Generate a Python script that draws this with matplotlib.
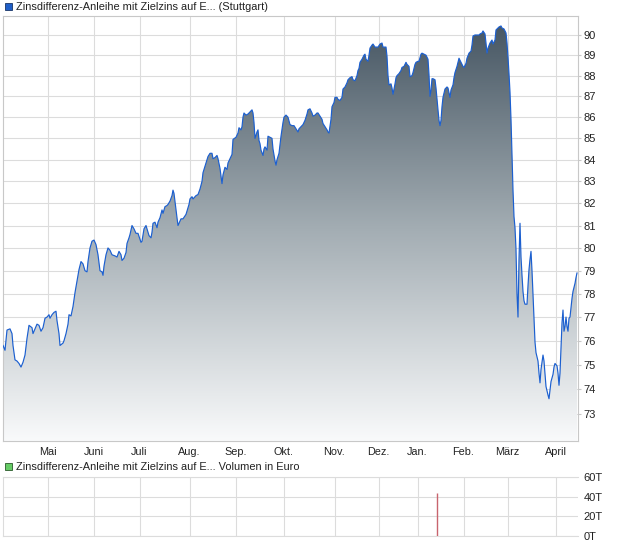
import matplotlib
matplotlib.use("Agg")
import matplotlib.pyplot as plt
import numpy as np
from matplotlib.colors import LinearSegmentedColormap
from matplotlib.patches import Polygon, Rectangle

plt.rcParams["font.family"] = ["Liberation Sans", "DejaVu Sans"]

# Kursverlauf (Stuttgart), Position = Handelstag-Slot auf der Zeitachse
t = [0, 2, 4, 7, 9, 10, 12, 14, 16, 18, 20, 22, 24, 26, 29, 30, 32, 34, 36, 38,
     40, 42, 44, 46, 47, 49, 51, 53, 54, 56, 57, 60, 61, 63, 65, 66, 68, 70, 72, 74,
     76, 78, 80, 82, 84, 85, 87, 89, 91,
     93, 95, 97, 99, 100, 101, 103, 105, 107, 109, 112, 114, 116, 118, 119, 121, 123, 124, 126, 127,
     129, 131, 133, 135, 138, 139, 141, 143, 144, 146, 148, 149, 150, 152, 154, 155, 157, 159, 160, 162,
     164, 165, 167, 169, 170, 171, 173, 174, 175, 177, 178, 180, 183, 184, 186, 187,
     189, 190, 193, 195, 197, 199, 200, 202, 204, 205, 207, 209, 210, 212, 214, 215, 217, 218, 219, 220,
     222, 224, 225, 227, 229, 230, 233, 235, 236, 238, 239, 240, 241, 243, 245, 247, 249, 250, 251, 252,
     254, 255, 256, 257, 258, 260, 261, 262, 264, 265, 267, 269, 270, 272, 273, 274, 276, 277, 278, 280,
     281, 283,
     285, 287, 289, 291, 293, 295, 296, 298, 300, 302, 304, 305, 307, 309, 310, 312, 314, 315, 317, 319,
     320, 322, 324, 325, 326, 328, 329, 331, 332, 334, 335, 337, 339, 340, 342, 344, 345, 347, 349, 350,
     352, 354, 355, 356, 357, 359, 361, 362, 363, 365, 366, 367, 369, 370, 372, 374, 375,
     377, 379, 380, 383, 384, 385, 386, 388, 389, 390, 392, 393, 394, 396, 398, 399, 401, 403, 404, 406,
     407, 409, 410, 412, 413, 415, 416, 418, 419, 421, 423, 425, 426, 427, 428, 429, 430, 432, 433, 434,
     435, 436, 437, 438, 439, 440, 442, 444, 445, 447, 448, 450, 451, 452, 454, 455, 456, 458, 460, 461,
     463, 464, 466, 468, 469, 470, 472, 474,
     476, 477, 479, 480, 482, 483, 484, 485, 487, 489, 490, 492, 493, 495, 496, 498, 499, 501, 503, 504,
     505, 506, 507, 508, 509, 510, 511, 512, 513, 514, 515, 516, 517, 518, 519, 520, 521, 522, 524, 525,
     526, 527, 528, 529, 530, 531, 532, 533, 535, 536, 537, 538, 540, 541, 542, 543, 545, 546, 547, 548,
     550, 551, 552, 554, 555, 556, 557, 558, 559, 560, 561, 562, 563, 564, 565, 566, 567, 568, 569, 570,
     572, 573, 574]
kurs = [75.8, 75.6, 76.45, 76.5, 76.3, 75.8, 75.2, 75.15, 75.05, 74.9, 75.1, 75.4, 76.1, 76.65, 76.55, 76.3, 76.5, 76.7, 76.65, 76.4,
        76.55, 76.95, 77.0, 77.1, 76.95, 77.1, 77.2, 77.25, 76.85, 76.3, 75.8, 75.9, 76.0, 76.3, 76.7, 77.1, 77.05, 77.45, 78.05, 78.55,
        79.05, 79.4, 79.3, 79.0, 78.95, 79.4, 80.0, 80.3, 80.35,
        80.15, 79.7, 79.0, 78.95, 78.8, 79.2, 79.7, 80.0, 79.9, 79.7, 79.65, 79.6, 79.85, 79.7, 79.45, 79.55, 79.8, 80.2, 80.45, 80.6,
        81.0, 80.85, 80.65, 80.65, 80.25, 80.3, 80.85, 81.0, 80.85, 80.55, 80.45, 80.7, 81.1, 81.15, 80.9, 81.15, 81.35, 81.7, 81.55, 81.85,
        81.9, 81.95, 82.1, 82.35, 82.6, 82.45, 81.7, 81.35, 81.0, 81.2, 81.3, 81.3, 81.5, 81.65, 81.95, 82.2,
        82.3, 82.2, 82.35, 82.4, 82.65, 83.0, 83.4, 83.7, 84.0, 84.15, 84.3, 84.3, 84.05, 84.1, 84.2, 84.05, 83.6, 83.25, 82.9, 83.3,
        83.65, 83.55, 83.85, 84.05, 84.25, 84.95, 85.05, 85.25, 85.5, 85.4, 85.55, 86.0, 86.2, 86.1, 86.15, 86.25, 86.35, 86.2, 85.75, 85.0,
        85.3, 85.4, 84.9, 84.75, 84.45, 84.2, 84.5, 84.6, 84.45, 85.1, 85.05, 85.0, 84.5, 83.95, 83.75, 84.0, 84.3, 84.7, 85.1, 85.75,
        86.0, 86.1,
        86.0, 85.65, 85.6, 85.6, 85.45, 85.3, 85.45, 85.55, 85.65, 85.85, 86.15, 86.35, 86.4, 86.2, 86.05, 86.1, 86.2, 86.2, 86.05, 85.9,
        85.7, 85.55, 85.4, 85.3, 85.25, 85.9, 86.5, 86.7, 86.95, 86.95, 86.85, 86.8, 86.95, 87.35, 87.45, 87.65, 87.8, 87.9, 87.95, 87.8,
        87.75, 88.0, 88.25, 88.35, 88.65, 88.8, 89.0, 89.05, 88.8, 88.7, 89.0, 89.35, 89.5, 89.55, 89.4, 89.4, 89.4,
        89.55, 89.6, 89.4, 89.4, 88.95, 88.0, 87.55, 87.6, 87.4, 87.1, 87.6, 87.9, 88.0, 88.1, 88.25, 88.4, 88.45, 88.65, 88.55, 88.45,
        87.95, 88.0, 88.15, 88.55, 88.65, 88.7, 88.7, 89.05, 89.1, 89.05, 89.0, 88.8, 88.05, 87.0, 87.3, 87.85, 87.85, 87.8, 87.4, 86.9,
        86.35, 85.85, 85.6, 85.85, 86.5, 86.95, 87.35, 87.45, 87.4, 86.95, 87.3, 87.55, 87.9, 88.15, 88.45, 88.65, 88.85, 88.65, 88.45, 88.4,
        88.6, 88.85, 89.1, 89.2, 89.5, 89.95, 90.0, 90.0,
        90.0, 90.05, 90.1, 90.2, 90.05, 89.6, 89.1, 89.35, 89.6, 89.75, 89.55, 89.75, 90.25, 90.35, 90.4, 90.45, 90.35, 90.3, 90.1, 89.6,
        88.9, 88.1, 87.2, 85.9, 84.3, 82.6, 81.4, 80.9, 79.95, 78.0, 77.0, 79.5, 81.1, 79.6, 78.8, 78.1, 77.7, 77.55, 77.55, 78.35,
        79.05, 79.5, 79.85, 79.0, 78.0, 77.0, 75.95, 75.5, 75.15, 74.65, 74.25, 74.8, 75.4, 75.15, 74.65, 74.1, 73.75, 73.6, 73.95, 74.3,
        74.6, 74.9, 75.05, 74.95, 74.65, 74.15, 74.65, 75.7, 76.75, 77.3, 76.4, 76.6, 77.0, 76.6, 76.4, 76.95, 77.0, 77.4, 77.8, 78.1,
        78.45, 78.7, 78.9]

monate = ["Mai", "Juni", "Juli", "Aug.", "Sep.", "Okt.", "Nov.", "Dez.", "Jan.", "Feb.", "März", "April"]
monat_pos = [44.5, 90.5, 136.5, 186.5, 233, 280.5, 331.5, 375.5, 414.5, 460.5, 504.5, 552.5]
kurs_ticks = list(range(73, 91))

# Umsatz in Euro
vol_t = [434]
vol_euro = [43600]
vol_ticks = [0, 20000, 40000, 60000]
vol_labels = ["0T", "20T", "40T", "60T"]

W, H = 620, 546
GRID = "#dcdcdc"
EDGE = "#c8c8c8"
TXT = "#222222"


def box(x0, y0, x1, y1):
    return [x0 / W, 1 - y1 / H, (x1 - x0) / W, (y1 - y0) / H]


fig = plt.figure(figsize=(W / 100, H / 100), dpi=100)
ax = fig.add_axes(box(3, 16, 578, 441))
ax2 = fig.add_axes(box(3, 477, 578, 536))

# --- Kurs-Chart ---
ax.set_yscale("log")
ax.set_xlim(0, 575)
ymin, ymax = 71.9, 90.95
ax.set_ylim(ymin, ymax)
ax.set_autoscale_on(False)

cmap = LinearSegmentedColormap.from_list("fade", ["#f9fafb", "#a3adb3", "#435360"])
grad = np.linspace(0, 1, 256).reshape(-1, 1)
im = ax.imshow(grad, extent=(0, 1, 0, 1), transform=ax.transAxes, origin="lower",
               aspect="auto", cmap=cmap, zorder=1, interpolation="bilinear")
verts = [(t[0], ymin)] + list(zip(t, kurs)) + [(t[-1], ymin)]
area = Polygon(verts, closed=True, transform=ax.transData, facecolor="none", edgecolor="none")
ax.add_patch(area)
im.set_clip_path(area)

ax.plot(t, kurs, color="#1b5fd0", lw=0.85, zorder=3)

ax.set_xticks(monat_pos, monate)
ax.yaxis.tick_right()
ax.set_yticks(kurs_ticks, [str(v) for v in kurs_ticks])
ax.yaxis.set_minor_locator(matplotlib.ticker.NullLocator())
ax.grid(True, color=GRID, lw=0.8, zorder=0)
ax.set_axisbelow(True)
ax.tick_params(axis="x", length=0, pad=4, labelsize=7.8, labelcolor=TXT)
ax.tick_params(axis="y", length=2, color=EDGE, pad=2, labelsize=8, labelcolor=TXT)
for s in ax.spines.values():
    s.set_color(EDGE)
    s.set_linewidth(0.8)

# --- Volumen ---
ax2.vlines(vol_t, 0, vol_euro, color="#c8646e", lw=1.0, zorder=3)
ax2.set_xlim(0, 575)
ax2.set_ylim(0, 60000)
ax2.set_xticks(monat_pos)
ax2.set_xticklabels([])
ax2.yaxis.tick_right()
ax2.set_yticks(vol_ticks, vol_labels)
ax2.grid(True, color=GRID, lw=0.8, zorder=0)
ax2.set_axisbelow(True)
ax2.tick_params(axis="x", length=0)
ax2.tick_params(axis="y", length=0, pad=4, labelsize=8, labelcolor=TXT)
for name, s in ax2.spines.items():
    s.set_color(GRID)
    s.set_linewidth(0.8)
ax2.spines["right"].set_visible(False)

# --- Legenden ---
fig.patches.append(Rectangle((5 / W, 1 - 10 / H), 7 / W, 7 / H, transform=fig.transFigure,
                             facecolor="#1f5fc8", edgecolor="#1a3566", lw=0.6))
fig.text(16 / W, 1 - 7 / H, "Zinsdifferenz-Anleihe mit Zielzins auf E... (Stuttgart)",
         fontsize=7.9, color=TXT, va="center", ha="left")
fig.patches.append(Rectangle((5 / W, 1 - 470 / H), 7 / W, 7 / H, transform=fig.transFigure,
                             facecolor="#66cc66", edgecolor="#2a5a2a", lw=0.6))
fig.text(16 / W, 1 - 467 / H, "Zinsdifferenz-Anleihe mit Zielzins auf E... Volumen in Euro",
         fontsize=7.9, color=TXT, va="center", ha="left")

fig.savefig("out.png", dpi=100)
